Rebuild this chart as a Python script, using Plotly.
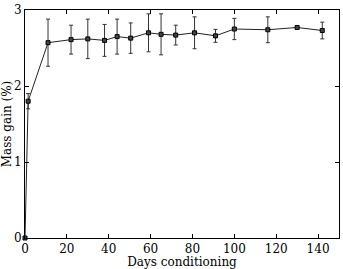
import plotly.graph_objects as go

days = [0, 1.5, 11, 22, 30, 38, 44, 50.5, 59, 65, 72, 81, 91, 100, 116, 130, 142]
mass_gain = [0, 1.80, 2.57, 2.61, 2.62, 2.60, 2.65, 2.63, 2.70, 2.68, 2.67, 2.70, 2.66, 2.75, 2.74, 2.77, 2.73]
err = [0, 0.10, 0.31, 0.19, 0.26, 0.21, 0.23, 0.20, 0.25, 0.27, 0.13, 0.21, 0.085, 0.14, 0.17, 0.02, 0.11]

x_ticks = [0, 20, 40, 60, 80, 100, 120, 140]
y_ticks = [0, 1, 2, 3]

font = dict(family="DejaVu Serif", size=12, color="black")

fig = go.Figure()
fig.add_trace(go.Scatter(
    x=days, y=mass_gain,
    mode="lines+markers",
    line=dict(color="#222", width=1),
    marker=dict(symbol="square", size=4, color="#444", line=dict(color="black", width=1)),
    error_y=dict(type="data", array=err, visible=True, color="#333", thickness=1, width=2),
    cliponaxis=False,
    showlegend=False,
))

axis_common = dict(
    showline=True, linecolor="black", linewidth=1, mirror="allticks",
    ticks="inside", ticklen=4, tickcolor="black", tickwidth=1,
    showgrid=False, zeroline=False, tickfont=font,
)

fig.update_layout(
    width=343, height=269,
    margin=dict(l=25, r=3, t=8, b=31),
    paper_bgcolor="white", plot_bgcolor="white",
    font=font,
    xaxis=dict(range=[0, 150], tickvals=x_ticks,
               title=dict(text="Days conditioning", font=font, standoff=0), **axis_common),
    yaxis=dict(range=[0, 3], tickvals=y_ticks,
               title=dict(text="Mass gain (%)", font=font, standoff=2), **axis_common),
)

fig.write_html("out.html")
